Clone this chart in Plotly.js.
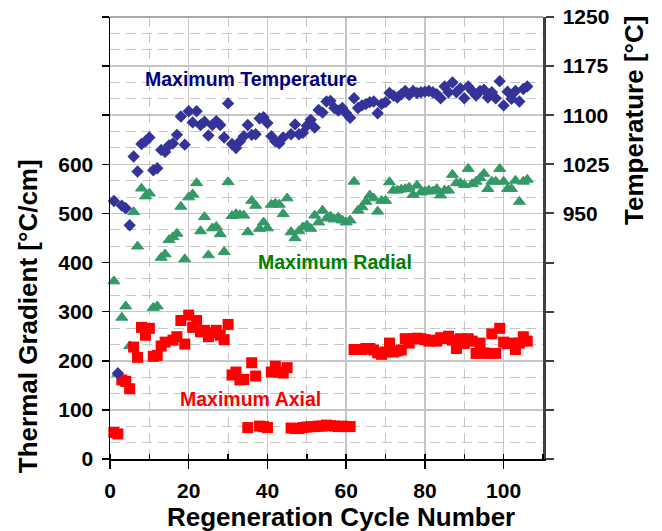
<!DOCTYPE html>
<html>
<head>
<meta charset="utf-8">
<script src="https://cdn.plot.ly/plotly-3.0.1.min.js"></script>
<style>
  html, body { margin: 0; padding: 0; background: #ffffff; }
  #chart { width: 662px; height: 531px; }
</style>
</head>
<body>
<div id="chart"></div>
<script>
// Maximum temperature per regeneration cycle (right axis, °C)
const tempCycle = [1,2,3,4,5,6,7,8,9,10,11,12,13,14,15,16,17,18,19,20,21,22,23,24,25,26,27,28,29,30,
  31,32,33,34,35,36,37,38,39,40,41,42,43,44,46,47,48,49,50,51,52,53,54,55,56,57,58,59,60,
  61,62,63,64,65,66,67,68,69,70,71,72,73,74,75,76,77,78,79,80,81,82,83,84,85,86,87,88,89,90,
  91,92,93,94,95,96,97,98,99,100,101,102,103,104,105,106];
const tempC = [969,706,962,958,932,1037,1014,1056,1060,1066,1016,1019,1047,1044,1054,1057,1070,1098,1055,1106,
  1089,1106,1085,1090,1069,1085,1091,1085,1066,1118,1056,1050,1060,1068,1085,1070,1071,1095,1097,1088,
  1068,1060,1057,1066,1071,1086,1071,1073,1084,1093,1081,1108,1104,1121,1122,1111,1107,1111,1103,
  1096,1126,1111,1115,1117,1120,1121,1103,1117,1120,1134,1130,1127,1132,1137,1131,1137,1134,1135,1136,
  1137,1135,1132,1126,1144,1135,1150,1135,1141,1126,1144,1137,1130,1137,1139,1127,1135,1126,1152,1115,
  1136,1125,1137,1121,1140,1144];

// Maximum radial thermal gradient (left axis, °C/cm)
const radialCycle = [1,2,3,4,5,6,7,8,9,10,11,12,13,14,15,16,17,18,19,20,21,22,23,24,25,26,27,28,29,30,
  31,32,33,34,35,36,37,38,39,40,41,42,43,44,45,46,47,48,49,50,51,52,53,54,55,56,57,58,59,60,
  61,62,63,64,65,66,67,68,69,70,71,72,73,74,75,76,77,78,79,80,81,82,83,84,85,86,87,88,89,90,
  91,92,93,94,95,96,97,98,99,100,101,102,103,104,105,106];
const radialGrad = [362,174,288,311,230,503,433,551,535,541,308,311,410,417,446,452,459,514,407,533,
  539,562,464,493,415,470,473,458,422,564,495,499,497,496,462,526,516,469,482,470,
  518,520,518,499,531,462,450,464,472,476,469,496,482,506,490,494,488,492,486,482,
  486,565,506,513,524,537,531,504,526,526,564,547,547,549,550,553,538,557,543,545,
  547,545,550,537,547,547,579,562,562,558,591,560,565,572,581,550,565,565,591,565,
  550,550,567,524,565,569];

// Maximum axial thermal gradient (left axis, °C/cm)
const axialCycle = [1,2,3,4,5,6,7,8,9,10,11,12,13,14,16,17,18,19,20,21,22,23,24,25,26,27,28,29,30,
  31,32,33,34,35,36,37,38,39,40,41,42,43,44,45,46,47,48,49,50,51,52,53,54,55,56,57,58,59,60,
  61,62,63,64,65,66,67,68,69,70,71,72,73,74,75,76,77,78,79,80,81,82,83,84,85,86,87,88,89,90,
  91,92,93,94,95,96,97,98,99,100,101,102,103,104,105,106];
const axialGrad = [54,51,161,158,143,228,207,268,252,266,209,211,230,238,242,249,282,234,293,
  268,282,259,262,249,257,262,252,243,274,171,177,161,162,64,196,169,67,66,64,
  177,189,177,175,186,63,62,62,64,65,66,66,67,67,69,68,67,66,67,66,
  66,223,223,223,225,225,222,216,213,218,236,218,220,222,245,236,245,246,245,243,
  240,242,240,247,245,250,242,225,245,235,245,240,215,236,216,215,255,215,266,238,
  235,236,223,236,249,240];

// Axis tick labels
const gradTicks = [0,100,200,300,400,500,600,700,800,900];
const gradLabels = ['0','100','200','300','400','500','600','','',''];
const tempTicks = [575,650,725,800,875,950,1025,1100,1175,1250];
const tempLabels = ['','','','','','950','1025','1100','1175','1250'];

const FONT = 'Liberation Sans, Arial, Helvetica, sans-serif';
const GRID = '#c6c6c6';
const DASH = '10px,6px';

// minor grid positions on the temperature scale (every 25 °C)
const tempMinor = [];
for (let v = 575; v <= 1250; v += 25) tempMinor.push(v);

const traces = [
  {
    x: radialCycle, y: radialGrad, type: 'scatter', mode: 'markers', name: 'Maximum Radial',
    marker: { symbol: 'triangle-up', size: 10.5, color: '#339966', line: { width: 1, color: '#339966' } },
    cliponaxis: false
  },
  {
    x: axialCycle, y: axialGrad, type: 'scatter', mode: 'markers', name: 'Maximum Axial',
    marker: { symbol: 'square', size: 11, color: '#ff0000' },
    cliponaxis: false
  },
  {
    x: tempCycle, y: tempC, type: 'scatter', mode: 'markers', name: 'Maximum Temperature',
    yaxis: 'y2',
    marker: { symbol: 'diamond', size: 9.5, color: '#333399' },
    cliponaxis: false
  }
];

const titleFont = { family: FONT, size: 26, weight: 'bold', color: '#000000' };
const tickFont = { family: FONT, size: 21, weight: 'bold', color: '#000000' };

const layout = {
  width: 662, height: 531,
  margin: { l: 110, r: 119, t: 17, b: 72, pad: 0 },
  paper_bgcolor: '#ffffff', plot_bgcolor: '#ffffff',
  showlegend: false,
  font: { family: FONT, color: '#000000' },
  xaxis: {
    range: [0, 110], tickmode: 'linear', tick0: 0, dtick: 20,
    showgrid: true, gridcolor: GRID, gridwidth: 1.5, zeroline: false,
    showline: true, linecolor: '#000000', linewidth: 1.5,
    ticks: 'outside', ticklen: 8, tickwidth: 1.5, tickcolor: '#000000',
    ticklabelstandoff: 4,
    tickfont: tickFont,
    minor: { dtick: 10, showgrid: true, gridcolor: GRID, gridwidth: 1, griddash: DASH,
             ticks: 'inside', ticklen: 5, tickwidth: 1.5, tickcolor: '#000000' }
  },
  yaxis: {
    range: [0, 900], tickmode: 'array', tickvals: gradTicks, ticktext: gradLabels,
    showgrid: false, zeroline: false,
    showline: true, linecolor: '#000000', linewidth: 1.5,
    ticks: 'outside', ticklen: 7, tickwidth: 1.5, tickcolor: '#000000',
    ticklabelstandoff: 4,
    tickfont: tickFont
  },
  yaxis2: {
    overlaying: 'y', side: 'right',
    range: [575, 1250], tickmode: 'array', tickvals: tempTicks, ticktext: tempLabels,
    showgrid: true, gridcolor: GRID, gridwidth: 1.5, zeroline: false,
    showline: true, linecolor: '#404040', linewidth: 2.5,
    ticks: 'outside', ticklen: 8, tickwidth: 2, tickcolor: '#404040',
    ticklabelstandoff: 5,
    tickfont: tickFont,
    minor: { tickmode: 'array', tickvals: tempMinor, showgrid: true, gridcolor: GRID,
             gridwidth: 1, griddash: DASH, ticks: '' }
  },
  shapes: [
    { type: 'line', xref: 'paper', yref: 'paper', x0: 0, x1: 1, y0: 1, y1: 1,
      line: { color: '#8c8c8c', width: 1.5 } }
  ],
  annotations: [
    // axis titles
    { text: 'Regeneration Cycle Number', x: 0.533, y: -0.131, xref: 'paper', yref: 'paper',
      showarrow: false, xanchor: 'center', yanchor: 'middle', font: titleFont },
    { text: 'Thermal Gradient [°C/cm]', x: -0.189, y: 0.3235, xref: 'paper', yref: 'paper',
      textangle: -90, showarrow: false, xanchor: 'center', yanchor: 'middle', font: titleFont },
    { text: 'Temperature [°C]', x: 1.210, y: 0.767, xref: 'paper', yref: 'paper',
      textangle: -90, showarrow: false, xanchor: 'center', yanchor: 'middle', font: titleFont },
    // series labels
    { text: 'Maximum Temperature', x: 35.8, y: 773, xref: 'x', yref: 'y',
      showarrow: false, xanchor: 'center', yanchor: 'middle',
      font: { family: FONT, size: 19.5, weight: 'bold', color: '#000080' } },
    { text: 'Maximum Radial', x: 57.1, y: 402, xref: 'x', yref: 'y',
      showarrow: false, xanchor: 'center', yanchor: 'middle',
      font: { family: FONT, size: 19.5, weight: 'bold', color: '#008000' } },
    { text: 'Maximum Axial', x: 35.8, y: 122, xref: 'x', yref: 'y',
      showarrow: false, xanchor: 'center', yanchor: 'middle',
      font: { family: FONT, size: 19.5, weight: 'bold', color: '#ff0000' } }
  ]
};

Plotly.newPlot('chart', traces, layout, { displayModeBar: false, staticPlot: true });
</script>
</body>
</html>
